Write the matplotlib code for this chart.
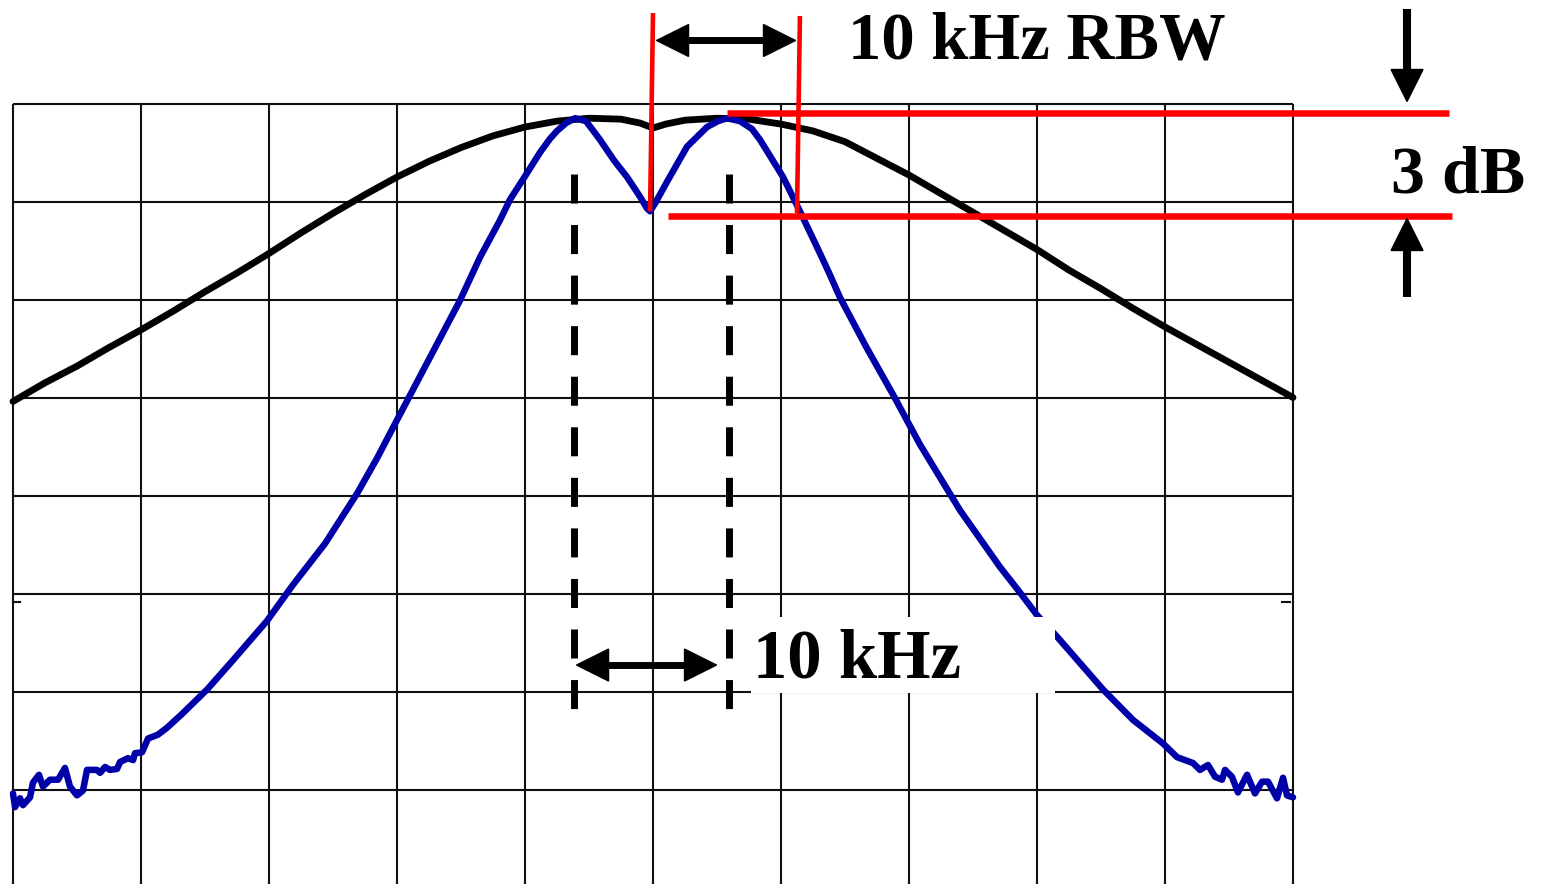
import numpy as np
import matplotlib
matplotlib.use("Agg")
import matplotlib.pyplot as plt
from matplotlib.patches import FancyArrowPatch, Rectangle

# Screen coordinates are in graticule divisions: x = 0..10 horizontal divisions,
# y = 0 at the reference (top) line, negative going down (1 division = 3 dB).

# Wide resolution bandwidth trace (black)
wide_x = [0.00, 0.25, 0.50, 0.75, 1.00, 1.25, 1.50, 1.75, 2.00, 2.25, 2.50, 2.75,
          3.00, 3.25, 3.50, 3.75, 4.00, 4.25, 4.50, 4.75, 4.90, 5.00, 5.10, 5.25,
          5.50, 5.75, 6.00, 6.25, 6.50, 6.75, 7.00, 7.25, 7.50, 7.75, 8.00, 8.25,
          8.50, 8.75, 9.00, 9.25, 9.50, 9.75, 10.00]
wide_y = [-3.04, -2.85, -2.68, -2.49, -2.31, -2.12, -1.92, -1.73, -1.53, -1.32, -1.12, -0.93,
          -0.75, -0.59, -0.45, -0.33, -0.24, -0.18, -0.15, -0.16, -0.20, -0.25, -0.21, -0.17,
          -0.15, -0.16, -0.21, -0.28, -0.39, -0.56, -0.73, -0.92, -1.11, -1.30, -1.49, -1.70,
          -1.89, -2.09, -2.28, -2.46, -2.64, -2.82, -3.00]

# Narrow (10 kHz) resolution bandwidth trace (blue), two resolved signals
narrow_x = [0.000, 0.016, 0.055, 0.078, 0.133, 0.156, 0.203, 0.234, 0.289, 0.352, 0.406, 0.445,
            0.500, 0.547, 0.578, 0.656, 0.680, 0.719, 0.758, 0.813, 0.836, 0.898, 0.938, 0.953,
            1.008, 1.055, 1.133, 1.203, 1.328, 1.516, 1.719, 1.984, 2.188, 2.438, 2.688, 2.844,
            3.000, 3.258, 3.492, 3.648, 3.805, 3.883, 4.016, 4.117, 4.195, 4.250, 4.320, 4.391,
            4.477, 4.586, 4.695, 4.797, 4.898, 4.953, 4.977, 5.016, 5.109, 5.266, 5.422, 5.508,
            5.578, 5.680, 5.773, 5.836, 6.016, 6.148, 6.305, 6.383, 6.461, 6.664, 6.875, 7.086,
            7.398, 7.711, 7.867, 8.000, 8.156, 8.336, 8.516, 8.750, 8.984, 9.094, 9.219, 9.273,
            9.336, 9.391, 9.445, 9.469, 9.523, 9.570, 9.641, 9.703, 9.758, 9.805, 9.875, 9.922,
            9.953, 10.000]
narrow_y = [-7.04, -7.18, -7.09, -7.16, -7.08, -6.93, -6.85, -6.97, -6.90, -6.90, -6.78, -6.97,
            -7.06, -7.01, -6.80, -6.80, -6.83, -6.77, -6.80, -6.79, -6.72, -6.68, -6.70, -6.63,
            -6.62, -6.48, -6.44, -6.37, -6.22, -5.98, -5.68, -5.28, -4.91, -4.49, -3.98, -3.62,
            -3.23, -2.59, -2.01, -1.57, -1.19, -0.98, -0.71, -0.50, -0.36, -0.28, -0.20, -0.15,
            -0.18, -0.37, -0.58, -0.75, -0.95, -1.07, -1.10, -1.02, -0.80, -0.44, -0.24, -0.18,
            -0.15, -0.18, -0.26, -0.37, -0.75, -1.10, -1.53, -1.75, -1.98, -2.48, -2.97, -3.48,
            -4.15, -4.73, -4.99, -5.22, -5.44, -5.71, -5.98, -6.29, -6.53, -6.67, -6.73, -6.80,
            -6.75, -6.87, -6.90, -6.80, -6.87, -7.03, -6.85, -7.04, -6.92, -6.92, -7.09, -6.88,
            -7.06, -7.08]

labels = ["10 kHz RBW", "3 dB", "10 kHz"]

W, H, DPI = 1542, 884, 100
fig = plt.figure(figsize=(W / DPI, H / DPI), dpi=DPI)
ax = fig.add_axes([0, 0, 1, 1])
ax.set_xlim(-13 / 128, (W - 13) / 128)
ax.set_ylim(-(H - 103.5) / 98, 103.5 / 98)
ax.axis("off")

# Graticule
ybot = ax.get_ylim()[0]
for gx in range(11):
    ax.plot([gx, gx], [0, ybot], color="#111111", lw=1.5, zorder=1, solid_capstyle="butt")
for gy in range(8):
    ax.plot([0, 10], [-gy, -gy], color="#111111", lw=1.5, zorder=1, solid_capstyle="butt")
# small centre marks at the screen edges
ax.plot([0, 0.055], [-5.087, -5.087], color="#111111", lw=1.5, zorder=1)
ax.plot([9.914, 9.977], [-5.087, -5.087], color="#111111", lw=1.5, zorder=1)

# Traces
ax.plot(wide_x, wide_y, color="black", lw=4.9, zorder=2,
        solid_joinstyle="round", solid_capstyle="round")
ax.plot(narrow_x, narrow_y, color="#0000A8", lw=4.7, zorder=3,
        solid_joinstyle="round", solid_capstyle="round")

# RBW markers (red); the left one ends at the dip between the two signals
nx = np.array(narrow_x)
ny = np.array(narrow_y)
between = (nx > 4.6) & (nx < 5.4)
dip = np.flatnonzero(between)[np.argmin(ny[between])]
ax.plot([5.000, nx[dip]], [0.923, ny[dip]], color="#FF0000", lw=3.3,
        zorder=4, solid_capstyle="butt")
ax.plot([6.148, 6.125], [0.893, -1.117], color="#FF0000", lw=3.3,
        zorder=4, solid_capstyle="butt")
ax.plot([5.578, 11.219], [-0.102, -0.102], color="#FF0000", lw=4.7,
        zorder=4, solid_capstyle="butt")
ax.plot([5.117, 11.242], [-1.143, -1.143], color="#FF0000", lw=4.7,
        zorder=4, solid_capstyle="butt")

# Signal-centre dashed markers
for dx in (4.383, 5.594):
    ax.plot([dx, dx], [-0.719, -6.219], color="black", lw=5.0, zorder=4,
            linestyle=(0, (20.9 / 5.0, 15.5 / 5.0)), dash_capstyle="butt")


def arrow(p0, p1, style, lw):
    a = FancyArrowPatch(p0, p1, arrowstyle=style, mutation_scale=1,
                        color="black", lw=lw, shrinkA=0, shrinkB=0, zorder=6,
                        joinstyle="miter", capstyle="butt")
    ax.add_patch(a)


two_way = "<|-|>,head_length=23,head_width=11.5"
one_way = "-|>,head_length=23,head_width=11.5"
arrow((5.016, 0.643), (6.125, 0.643), two_way, 1.0)
ax.plot([5.2, 5.95], [0.643, 0.643], color="black", lw=5.0, zorder=6)
arrow((4.391, -5.730), (5.508, -5.730), two_way, 1.0)
ax.plot([4.55, 5.35], [-5.730, -5.730], color="black", lw=5.0, zorder=6)
arrow((10.891, 0.964), (10.891, 0.005), one_way, 1.0)
ax.plot([10.891, 10.891], [0.964, 0.3], color="black", lw=5.8, zorder=6,
        solid_capstyle="butt")
arrow((10.891, -1.974), (10.891, -1.158), one_way, 1.0)
ax.plot([10.891, 10.891], [-1.974, -1.4], color="black", lw=5.8, zorder=6,
        solid_capstyle="butt")

# White backing for the frequency-offset label
ax.add_patch(Rectangle((5.766, -6.015), 2.375, 0.776, facecolor="white",
                       edgecolor="none", zorder=5))

font = dict(family="Liberation Serif", weight="bold", color="black", zorder=7,
            ha="left", va="baseline")
ax.text(6.52, 0.464, labels[0], fontsize=48, **font)
ax.text(10.765, -0.913, labels[1], fontsize=49, **font)
ax.text(5.78, -5.862, labels[2], fontsize=49.5, **font)

fig.savefig("out.png", dpi=DPI, facecolor="white")
